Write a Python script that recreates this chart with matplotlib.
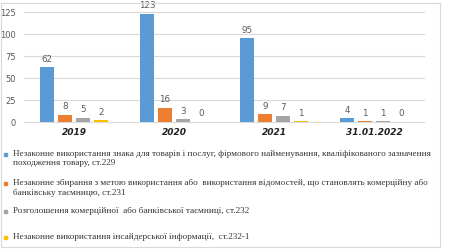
import matplotlib.pyplot as plt
from matplotlib.patches import Rectangle

years = ["2019", "2020", "2021", "31.01.2022"]
st229 = [62, 123, 95, 4]
st231 = [8, 16, 9, 1]
st232 = [5, 3, 7, 1]
st2321 = [2, 0, 1, 0]
series = [st229, st231, st232, st2321]
colors = ["#5B9BD5", "#ED7D31", "#A5A5A5", "#FFC000"]
legend_lines = [
    ["Незаконне використання знака для товарів і послуг, фірмового найменування, кваліфікованого зазначення",
     "походження товару, ст.229"],
    ["Незаконне збирання з метою використання або  використання відомостей, що становлять комерційну або",
     "банківську таємницю, ст.231"],
    ["Розголошення комерційної  або банківської таємниці, ст.232"],
    ["Незаконне використання інсайдерської інформації,  ст.232-1"],
]
yticks = [0, 25, 50, 75, 100, 125]

W, H = 450, 252
fig = plt.figure(figsize=(4.5, 2.52), dpi=100)
fig.patch.set_facecolor("white")

# frame around the chart
fig.patches.append(Rectangle((1 / W, 1 - 247 / H), 439 / W, 244 / H, transform=fig.transFigure,
                             fill=False, edgecolor="#D9D9D9", lw=0.8))

ax = fig.add_axes([24 / W, 1 - 122 / H, 400 / W, 110 / H])
ax.set_xlim(-0.5, 3.5)
ax.set_ylim(0, 125)
for s in ax.spines.values():
    s.set_visible(False)
ax.set_yticks(yticks)
ax.tick_params(length=0, labelsize=6, labelcolor="#595959", pad=6)
ax.set_xticks([])
for t in yticks:
    ax.axhline(t, color="#D9D9D9", lw=0.8, zorder=0, clip_on=False)

offsets = [-0.27, -0.09, 0.09, 0.27]
for vals, col, off in zip(series, colors, offsets):
    xs = [i + off for i in range(len(years))]
    ax.bar(xs, vals, width=0.14, color=col, zorder=2)
    for x, v in zip(xs, vals):
        ax.text(x, v + 4, str(v), ha="center", va="bottom", fontsize=6.3, color="#595959")

for i, y in enumerate(years):
    ax.text(i, -7, y, ha="center", va="top", fontsize=6.5, fontweight="bold",
            fontstyle="italic", color="#222222")

ypos = [[154, 163], [183, 193], [211], [237]]
for lines, col, ys in zip(legend_lines, colors, ypos):
    fig.patches.append(Rectangle((4 / W, 1 - (ys[0] + 1.5) / H), 3 / W, 3 / H,
                                 transform=fig.transFigure, color=col))
    for line, yy in zip(lines, ys):
        fig.text(13 / W, 1 - yy / H, line, ha="left", va="center", fontsize=6.6,
                 family="Liberation Serif", color="#333333")

fig.savefig("out.png", dpi=100, facecolor="white")
